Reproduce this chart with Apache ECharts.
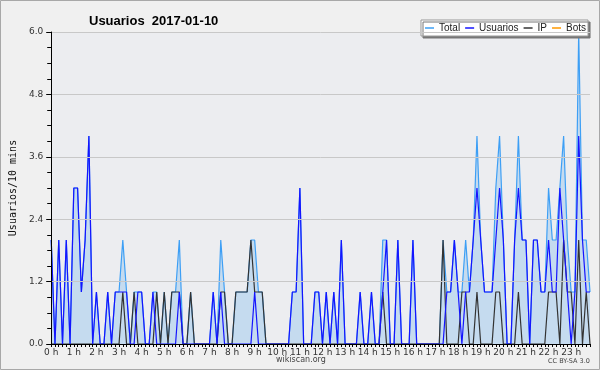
<!DOCTYPE html>
<html>
<head>
<meta charset="utf-8">
<script src="https://cdn.jsdelivr.net/npm/echarts@6/dist/echarts.min.js"></script>
<style>
html,body{margin:0;padding:0;background:#f0f0f0;}
#c{width:600px;height:370px;}
</style>
</head>
<body>
<div id="c"></div>
<script>
// 10-minute slots over the day
const hourLabels = ['0 h','1 h','2 h','3 h','4 h','5 h','6 h','7 h','8 h','9 h','10 h','11 h','12 h','13 h','14 h','15 h','16 h','17 h','18 h','19 h','20 h','21 h','22 h','23 h'];
const slots = [];
for (let h = 0; h < 24; h++) for (let m = 0; m < 60; m += 10) slots.push(String(h).padStart(2,'0') + ':' + String(m).padStart(2,'0'));

const total = [
  2,0,2,0,2,0, 3,3,1,2,4,0, 1,0,0,1,0,1, 1,2,1,0,1,1,
  1,0,0,1,1,0, 1,0,1,1,2,0, 0,1,0,0,0,0, 0,1,0,2,1,0,
  0,1,1,1,1,2, 2,1,1,0,0,0, 0,0,0,0,1,1, 3,0,0,0,1,1,
  0,1,0,1,0,2, 0,0,0,0,1,0, 0,1,0,0,2,2, 0,0,2,0,0,0,
  2,0,0,0,0,0, 0,0,2,1,1,2, 1,1,2,1,2,4, 2,1,1,1,3,4,
  2,0,0,2,4,2, 2,0,2,2,1,1, 3,2,2,3,4,2, 1,1,6,2,2,1
];
const usuarios = [
  2,0,2,0,2,0, 3,3,1,2,4,0, 1,0,0,1,0,1, 1,1,1,0,0,1,
  1,0,0,1,0,0, 0,0,0,0,1,0, 0,0,0,0,0,0, 0,1,0,1,0,0,
  0,0,0,0,0,0, 1,0,0,0,0,0, 0,0,0,0,1,1, 3,0,0,0,1,1,
  0,1,0,1,0,2, 0,0,0,0,1,0, 0,1,0,0,1,2, 0,0,2,0,0,0,
  2,0,0,0,0,0, 0,0,0,1,1,2, 1,0,1,1,2,3, 2,1,1,1,2,3,
  2,0,0,2,3,2, 2,0,2,2,1,1, 2,1,1,3,2,1, 0,1,4,2,1,1
];
const ip = [
  0,0,0,0,0,0, 0,0,0,0,0,0, 0,0,0,0,0,0, 0,1,0,0,1,0,
  0,0,0,0,1,0, 1,0,1,1,1,0, 0,1,0,0,0,0, 0,0,0,1,1,0,
  0,1,1,1,1,2, 1,1,1,0,0,0, 0,0,0,0,0,0, 0,0,0,0,0,0,
  0,0,0,0,0,0, 0,0,0,0,0,0, 0,0,0,0,1,0, 0,0,0,0,0,0,
  0,0,0,0,0,0, 0,0,2,0,0,0, 0,1,1,0,0,1, 0,0,0,0,1,1,
  0,0,0,0,1,0, 0,0,0,0,0,0, 1,1,1,0,2,1, 1,0,2,0,1,0
];
const bots = [
  0,0,0,0,0,0, 0,0,0,0,0,0, 0,0,0,0,0,0, 0,0,0,0,0,0,
  0,0,0,0,0,0, 0,0,0,0,0,0, 0,0,0,0,0,0, 0,0,0,0,0,0,
  0,0,0,0,0,0, 0,0,0,0,0,0, 0,0,0,0,0,0, 0,0,0,0,0,0,
  0,0,0,0,0,0, 0,0,0,0,0,0, 0,0,0,0,0,0, 0,0,0,0,0,0,
  0,0,0,0,0,0, 0,0,0,0,0,0, 0,0,0,0,0,0, 0,0,0,0,0,0,
  0,0,0,0,0,0, 0,0,0,0,0,0, 0,0,0,0,0,0, 0,0,0,0,0,0
];

const chart = echarts.init(document.getElementById('c'), null, {renderer:'canvas'});
const FONT = 'DejaVu Sans';
chart.setOption({
  backgroundColor: '#f0f0f0',
  animation: false,
  title: {
    text: 'Usuarios  2017-01-10',
    left: 84, top: 10,
    textStyle: {fontFamily: 'Liberation Sans', fontWeight: 'bold', fontSize: 13, color: '#000'}
  },
  legend: {
    left: 421, top: 20,
    padding: [3, 2, 3, 4],
    itemGap: 5,
    itemWidth: 9, itemHeight: 1.5,
    backgroundColor: '#ffffff',
    borderColor: '#999999', borderWidth: 1,
    shadowColor: '#777777', shadowOffsetX: 2, shadowOffsetY: 2, shadowBlur: 0,
    textStyle: {fontFamily: 'Liberation Sans', fontSize: 10, color: '#222'},
    data: [
      {name: 'Total', icon: 'rect', itemStyle: {color: '#3d9ff5'}},
      {name: 'Usuarios', icon: 'rect', itemStyle: {color: '#1414ff'}},
      {name: 'IP', icon: 'rect', itemStyle: {color: '#333333'}},
      {name: 'Bots', icon: 'rect', itemStyle: {color: '#ff9900'}}
    ]
  },
  grid: {left: 47, right: 10, top: 32, bottom: 26, show: true, backgroundColor: '#ecedf0', borderWidth: 0},
  xAxis: {
    type: 'category', data: slots, boundaryGap: false, z: 10,
    axisLine: {lineStyle: {color: '#000', width: 1}},
    axisTick: {show: true, interval: 0, length: 3, lineStyle: {color: '#000'}},
    axisLabel: {interval: 5, margin: 4, fontFamily: FONT, fontSize: 9, color: '#333',
      formatter: (v, idx) => hourLabels[Math.round(idx / 6)]},
    splitLine: {show: false}
  },
  yAxis: {
    type: 'value', min: 0, max: 6, interval: 1.2, z: 10,
    name: 'Usuarios/10 mins', nameLocation: 'middle', nameGap: 32, nameRotate: 90,
    nameTextStyle: {fontFamily: 'DejaVu Sans Mono', fontSize: 10, color: '#111'},
    axisLine: {show: true, lineStyle: {color: '#000', width: 1}},
    axisTick: {show: true, length: 5, lineStyle: {color: '#000'}},
    minorTick: {show: true, splitNumber: 4, length: 4, lineStyle: {color: '#000'}},
    axisLabel: {margin: 8, fontFamily: FONT, fontSize: 9, color: '#333', formatter: v => v.toFixed(1)},
    splitLine: {show: true, lineStyle: {color: '#c8c8c8', width: 1}}
  },
  series: [
    {name: 'Total', type: 'line', data: total, symbol: 'none', z: 2,
      lineStyle: {color: '#3d9ff5', width: 1.2}, itemStyle: {color: '#3d9ff5'},
      areaStyle: {color: '#c5dbef', opacity: 1}},
    {name: 'Usuarios', type: 'line', data: usuarios, symbol: 'none', z: 4,
      lineStyle: {color: '#1414ff', width: 1.2}, itemStyle: {color: '#1414ff'}},
    {name: 'IP', type: 'line', data: ip, symbol: 'none', z: 3,
      lineStyle: {color: '#333333', width: 1.2}, itemStyle: {color: '#333333'}},
    {name: 'Bots', type: 'line', data: bots, symbol: 'none', z: 1,
      lineStyle: {color: '#ff9900', width: 1.2}, itemStyle: {color: '#ff9900'}}
  ],
  graphic: [
    {type: 'rect', shape: {x: 0.5, y: 0.5, width: 599, height: 369}, style: {fill: 'none', stroke: '#a8a8a8', lineWidth: 1}, silent: true, z: 100},
    {type: 'text', left: 276, top: 356, style: {text: 'wikiscan.org', fontFamily: FONT, fontSize: 8, fill: '#444'}},
    {type: 'text', left: 548, top: 358, style: {text: 'CC BY-SA 3.0', fontFamily: FONT, fontSize: 6.5, fill: '#444'}}
  ]
});
</script>
</body>
</html>
